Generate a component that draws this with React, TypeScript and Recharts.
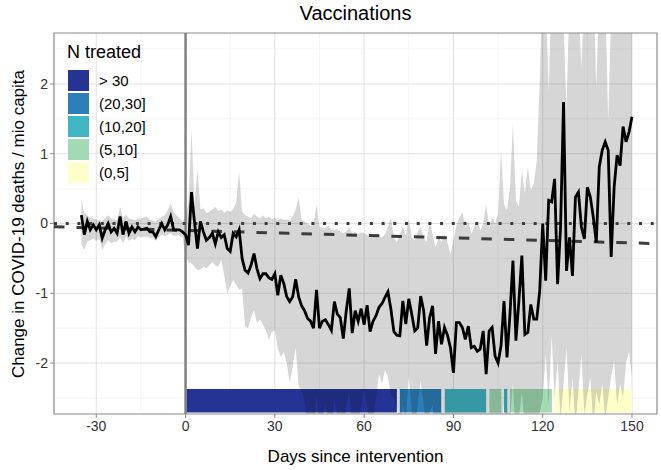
import React from 'react'
import {
  ComposedChart, Area, Line, XAxis, YAxis, CartesianGrid,
  ReferenceArea, ReferenceLine
} from 'recharts'

// days -35 .. -1 (before intervention)
const preFirstDay = -35
const preEstimate = [
  0.12, -0.16, 0.03, -0.09, -0.02, -0.09, -0.02, -0.21, -0.09, 0.0,
  -0.12, -0.07, -0.14, 0.10, -0.16, 0.03, -0.14, -0.05, -0.12, -0.05,
  -0.09, -0.08, -0.07, -0.12, -0.12, -0.19, -0.09, 0.0, -0.09, -0.02,
  0.10, -0.09, -0.09, -0.09, -0.12,
]
const preUpper = [
  0.34, 0.15, 0.12, 0.08, 0.07, 0.06, 0.05, 0.03, 0.08, 0.12,
  0.07, 0.06, 0.05, 0.24, 0.08, 0.13, 0.07, 0.06, 0.05, 0.07,
  0.07, 0.09, 0.10, 0.06, 0.04, 0.03, 0.06, 0.10, 0.12, 0.19,
  0.29, 0.16, 0.12, 0.08, 0.02,
]
const preLower = [
  -0.30, -0.38, -0.26, -0.24, -0.21, -0.25, -0.22, -0.38, -0.30, -0.24,
  -0.28, -0.26, -0.26, -0.20, -0.28, -0.19, -0.25, -0.22, -0.24, -0.18,
  -0.20, -0.19, -0.19, -0.21, -0.20, -0.25, -0.20, -0.16, -0.18, -0.17,
  -0.14, -0.18, -0.17, -0.18, -0.20,
]

// days 0 .. 150 (after intervention)
const postEstimate = [
  -0.16, -0.31, 0.45, 0.02, -0.36, 0.03, -0.12, -0.24, -0.20, -0.14,
  -0.29, -0.12, -0.20, -0.16, -0.36, -0.40, -0.14, -0.19, -0.09, -0.50,
  -0.67, -0.71, -0.60, -0.43, -0.65, -0.79, -0.72, -0.72, -0.78, -0.80,
  -0.72, -1.03, -0.74, -0.86, -1.05, -1.12, -1.05, -0.80, -1.05, -1.18,
  -1.25, -1.36, -1.40, -1.50, -0.95, -1.50, -1.40, -1.38, -1.45, -1.53,
  -1.12, -1.30, -1.35, -1.65, -1.25, -0.93, -1.57, -1.25, -1.40, -1.22,
  -1.45, -1.17, -1.55, -1.40, -1.32, -1.20, -1.15, -1.06, -0.98, -1.23,
  -1.55, -1.60, -1.61, -1.11, -1.44, -1.08, -1.30, -1.54, -1.50, -1.04,
  -1.25, -1.75, -1.35, -1.18, -1.87, -1.40, -1.73, -1.49, -1.60, -1.78,
  -2.14, -1.42, -1.42, -1.49, -1.66, -1.47, -1.78, -1.76, -1.83, -1.80,
  -1.54, -2.16, -1.54, -1.49, -1.90, -2.00, -1.75, -1.11, -1.92, -1.30,
  -0.53, -1.68, -1.11, -0.46, -1.59, -1.56, -1.16, -1.37, -1.37, -0.96,
  0.00, -0.82, 0.33, 0.31, 0.64, -0.87, -0.05, 1.74, -0.68, -0.20,
  -0.75, 0.38, 0.45, -0.05, -0.22, 0.52, 0.38, 0.09, -0.27, 0.81,
  1.05, 1.17, 1.05, -0.48, 0.52, 0.98, 0.83, 1.39, 1.17, 1.31,
  1.53,
]
const postUpper = [
  0.10, 0.30, 1.35, 0.25, 0.77, 0.20, 0.22, 0.15, 0.17, 0.20,
  0.24, 0.18, 0.20, 0.15, 0.19, 0.17, 0.20, 0.30, 0.75, 0.17,
  0.12, 0.10, 0.08, 0.14, 0.10, 0.07, 0.12, 0.07, 0.10, 0.06,
  0.08, 0.05, 0.07, 0.05, 0.06, 0.04, 0.10, 0.20, 0.38, 0.05,
  0.03, 0.00, -0.04, -0.02, 0.27, -0.05, -0.07, -0.06, -0.03, -0.08,
  -0.10, -0.08, -0.12, -0.14, -0.11, -0.06, -0.14, -0.12, -0.15, -0.13,
  -0.14, -0.16, -0.20, -0.18, -0.17, -0.19, -0.20, -0.15, -0.05, 0.09,
  -0.20, -0.27, -0.15, -0.05, -0.17, 0.07, -0.20, -0.24, -0.12, -0.05,
  -0.20, -0.27, 0.04, -0.15, -0.34, -0.20, -0.27, -0.15, -0.27, -0.44,
  -0.24, -0.03, 0.09, 0.16, -0.05, 0.04, -0.15, -0.05, 0.04, -0.10,
  0.00, 0.28, -0.05, 0.09, 0.00, 0.14, 1.05, 0.28, 0.19, 0.52,
  1.43, 0.33, 0.24, 0.76, 0.43, 0.81, 0.48, 0.57, 0.91, 2.06,
  3.50, 3.30, 1.90, 3.40, 3.50, 3.00, 3.40, 2.90, 1.63, 3.30,
  3.00, 3.60, 3.10, 2.24, 3.30, 3.50, 3.00, 3.40, 1.96, 3.20,
  3.60, 3.30, 1.48, 3.00, 3.40, 3.50, 3.20, 3.60, 3.30, 3.50,
  3.40,
]
const postLower = [
  -0.47, -0.55, -0.57, -0.62, -0.67, -0.66, -0.62, -0.64, -0.60, -0.55,
  -0.60, -0.62, -0.52, -0.75, -1.00, -0.90, -0.81, -0.88, -0.95, -0.93,
  -1.48, -1.50, -1.35, -1.24, -1.43, -1.38, -1.45, -1.53, -1.67, -1.55,
  -1.53, -1.80, -1.91, -1.85, -2.00, -2.29, -2.05, -1.77, -2.34, -2.39,
  -2.55, -2.90, -2.70, -3.10, -2.45, -3.00, -2.80, -2.60, -2.90, -3.10,
  -2.50, -2.80, -2.70, -3.20, -2.60, -2.40, -3.00, -2.70, -2.90, -2.60,
  -2.40, -2.60, -3.00, -2.80, -2.50, -2.16, -2.30, -2.10, -2.20, -2.45,
  -2.50, -2.64, -2.90, -2.60, -2.80, -2.20, -2.70, -2.90, -2.60, -2.25,
  -2.60, -3.00, -2.70, -2.60, -3.10, -2.80, -2.90, -2.90, -3.00, -3.10,
  -3.40, -2.85, -2.90, -2.90, -3.10, -2.90, -3.20, -3.10, -3.20, -3.10,
  -2.95, -3.50, -2.90, -2.85, -3.20, -3.30, -3.00, -2.60, -3.20, -2.80,
  -2.30, -3.10, -2.80, -2.40, -3.00, -3.00, -2.75, -2.90, -2.90, -2.70,
  -2.50, -1.87, -2.60, -1.60, -2.50, -1.97, -2.80, -2.30, -1.78, -2.70,
  -2.20, -2.90, -2.40, -1.87, -2.75, -2.45, -2.20, -2.90, -2.40, -2.60,
  -2.30, -2.80, -2.50, -2.20, -1.97, -2.60, -2.30, -2.50, -2.00, -1.83,
  -2.20,
]

// treatment intensity strip at the bottom
const groupLabels = ['> 30', '(20,30]', '(10,20]', '(5,10]', '(0,5]']
const groupColors = ['#253494', '#2c7fb8', '#41b6c4', '#a1dab4', '#ffffcc']
const stripFrom = [0.3, 72, 87.1, 102.1, 107, 109, 124]
const stripTo = [71, 85.9, 101, 106.1, 108.1, 123.1, 150]
const stripGroup = [0, 1, 2, 3, 2, 3, 4]
const stripTop = -2.37
const stripBottom = -2.71

// pre-trend line
const trendDays = [-44.2, 158.4]
const trendValues = [-0.047, -0.288]

const xDomain: [number, number] = [-44.2, 158.4]
const yDomain: [number, number] = [-2.73, 2.73]
const xTicks = [-30, 0, 30, 60, 90, 120, 150]
const xMinor = [-15, 15, 45, 75, 105, 135]
const yTicks = [-2, -1, 0, 1, 2]
const yMinor = [-2.5, -1.5, -0.5, 0.5, 1.5, 2.5]

const rows = [
  ...preEstimate.map((v, i) => ({ day: preFirstDay + i, est: v, lo: preLower[i], hi: preUpper[i] })),
  ...postEstimate.map((v, i) => ({ day: i, est: v, lo: postLower[i], hi: postUpper[i] })),
]

const font = "'Liberation Sans', Arial, Helvetica, sans-serif"

const YTitle = () => {
  const cx = 18
  const cy = 224
  return (
    <text x={cx} y={cy} transform={`rotate(-90 ${cx} ${cy})`} textAnchor="middle"
      dominantBaseline="central" fontSize={17} fontFamily={font} fill="#000">
      Change in COVID-19 deaths / mio capita
    </text>
  )
}

export default function App() {
  return (
    <div style={{ position: 'absolute', left: 0, top: 0, width: 661, height: 470, background: '#fff', fontFamily: font }}>
      <div style={{ position: 'absolute', left: 54, top: 1, width: 603, textAlign: 'center', fontSize: 20, lineHeight: '24px', color: '#000' }}>
        Vaccinations
      </div>
      <ComposedChart width={661} height={470} data={rows} margin={{ top: 33, right: 4, bottom: 0, left: 0 }}>
        <CartesianGrid horizontalValues={yMinor} verticalValues={xMinor} stroke="#eeeeee" strokeWidth={0.6} />
        <CartesianGrid horizontalValues={yTicks} verticalValues={xTicks} stroke="#e2e2e2" strokeWidth={1} />
        <XAxis
          type="number" dataKey="day" domain={xDomain} ticks={xTicks} allowDataOverflow
          height={56} axisLine={false} tickSize={4} tickMargin={3}
          tickLine={{ stroke: '#888' }}
          tick={{ fill: '#333', fontSize: 14, fontFamily: font }}
          label={{ value: 'Days since intervention', position: 'insideBottom', offset: 8, fill: '#000', fontSize: 17, fontFamily: font }}
        />
        <YAxis
          type="number" domain={yDomain} ticks={yTicks} allowDataOverflow
          width={54} axisLine={false} tickSize={4} tickMargin={2}
          tickLine={{ stroke: '#888' }}
          tick={{ fill: '#333', fontSize: 14, fontFamily: font }}
          label={{ content: YTitle }}
        />
        {stripFrom.map((x1, i) => (
          <ReferenceArea key={'s' + i} x1={x1} x2={stripTo[i]} y1={stripBottom} y2={stripTop}
            fill={groupColors[stripGroup[i]]} fillOpacity={1} stroke="none" />
        ))}
        <Area type="linear" dataKey={(r: any) => [r.lo, r.hi]} fill="#000" fillOpacity={0.16}
          stroke="none" isAnimationActive={false} activeDot={false} />
        <ReferenceLine x={0} stroke="#808080" strokeWidth={2.5} />
        <ReferenceLine y={0} stroke="#3c3c3c" strokeWidth={3} strokeDasharray="3 8.7" />
        <ReferenceLine
          segment={[{ x: trendDays[0], y: trendValues[0] }, { x: trendDays[1], y: trendValues[1] }]}
          stroke="#3c3c3c" strokeWidth={3} strokeDasharray="10.5 12" />
        <Line type="linear" dataKey="est" stroke="#000" strokeWidth={2.8} dot={false}
          activeDot={false} isAnimationActive={false} />
        <ReferenceArea x1={xDomain[0]} x2={xDomain[1]} y1={yDomain[0]} y2={yDomain[1]}
          fill="none" stroke="#8a8a8a" strokeWidth={1.2} />
      </ComposedChart>
      <div style={{ position: 'absolute', left: 67, top: 42, color: '#000' }}>
        <div style={{ fontSize: 18, lineHeight: '20px', marginBottom: 8 }}>N treated</div>
        {groupLabels.map((g, i) => (
          <div key={g} style={{ display: 'flex', alignItems: 'center', height: 21, marginBottom: 2, marginLeft: 1 }}>
            <div style={{ width: 21, height: 21, background: groupColors[i] }} />
            <span style={{ marginLeft: 10, fontSize: 15 }}>{g}</span>
          </div>
        ))}
      </div>
    </div>
  )
}
